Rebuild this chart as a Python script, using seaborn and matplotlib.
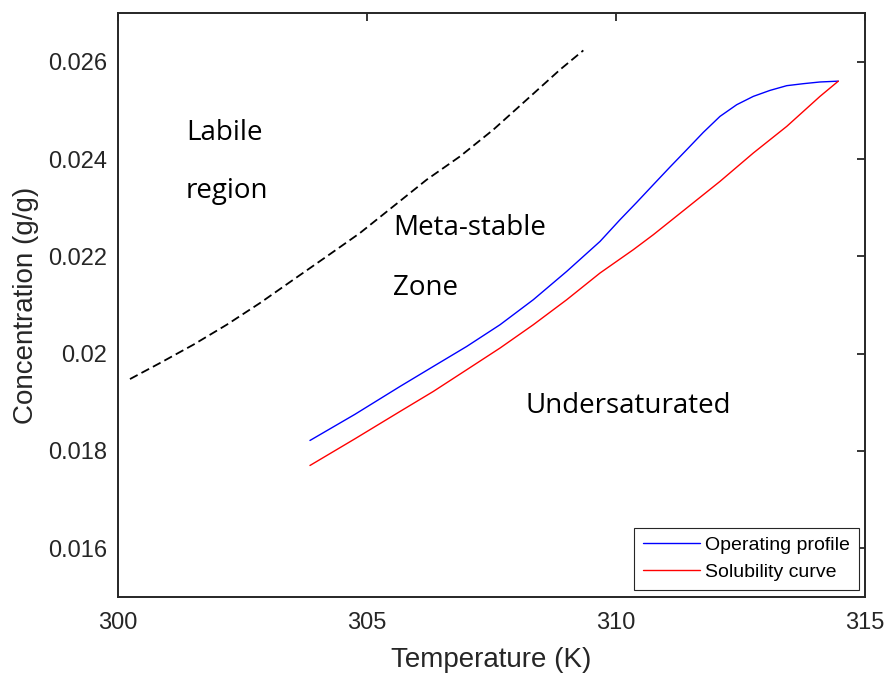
import numpy as np
import pandas as pd
import seaborn as sns
import matplotlib.pyplot as plt

# values
temp_op = [303.855, 304.759, 305.663, 306.331, 307.002, 307.671, 308.339, 309.010,
           309.679, 310.080, 310.415, 310.749, 311.084, 311.420, 311.753, 312.088,
           312.424, 312.757, 313.092, 313.428, 313.761, 314.096, 314.464]
conc_op = [0.018216, 0.018754, 0.019326, 0.019737, 0.020148, 0.020594, 0.021108, 0.021690,
           0.022306, 0.022752, 0.023108, 0.023472, 0.023835, 0.024191, 0.024547, 0.024876,
           0.025116, 0.025287, 0.025410, 0.025507, 0.025548, 0.025583, 0.025600]

temp_sol = [303.855, 304.759, 305.663, 306.331, 307.002, 307.671, 308.339, 309.010,
            309.679, 310.347, 310.749, 311.420, 312.088, 312.757, 313.428, 314.096,
            314.464]
conc_sol = [0.017702, 0.018251, 0.018812, 0.019223, 0.019669, 0.020115, 0.020594, 0.021108,
            0.021657, 0.022136, 0.022444, 0.022993, 0.023540, 0.024123, 0.024670, 0.025287,
            0.025600]

temp_lab = [300.241, 300.843, 301.512, 302.183, 302.851, 303.520, 304.191, 304.859,
            305.528, 306.199, 306.867, 307.536, 308.207, 308.876, 309.344]
conc_lab = [0.019478, 0.019807, 0.020183, 0.020594, 0.021040, 0.021519, 0.021998, 0.022479,
            0.023026, 0.023575, 0.024053, 0.024602, 0.025219, 0.025836, 0.026232]

x_ticks = [300, 305, 310, 315]
y_ticks = [0.016, 0.018, 0.02, 0.022, 0.024, 0.026]
y_tick_labels = ['0.016', '0.018', '0.02', '0.022', '0.024', '0.026']

df_op = pd.DataFrame({'T': temp_op, 'C': conc_op})
df_sol = pd.DataFrame({'T': temp_sol, 'C': conc_sol})
df_lab = pd.DataFrame({'T': temp_lab, 'C': conc_lab})

sns.set_style("white")
plt.rcParams['font.family'] = ['Liberation Sans', 'DejaVu Sans']

dark = '#262626'
fig = plt.figure(figsize=(8.87, 6.75), dpi=100)
ax = fig.add_axes([0.1330, 0.1156, 0.9752 - 0.1330, 0.9807 - 0.1156])

sns.lineplot(data=df_op, x='T', y='C', color='#0000ff', lw=1.0, sort=False,
             label='Operating profile', ax=ax)
sns.lineplot(data=df_sol, x='T', y='C', color='#ff0000', lw=1.0, sort=False,
             label='Solubility curve', ax=ax)
sns.lineplot(data=df_lab, x='T', y='C', color='black', lw=1.3, sort=False,
             dashes=False, ax=ax, legend=False)
ax.lines[-1].set_dashes([4.8, 2.4])

ax.set_xlim(300, 315)
ax.set_ylim(0.015, 0.027)
ax.set_xticks(x_ticks)
ax.set_xticklabels([str(t) for t in x_ticks])
ax.set_yticks(y_ticks)
ax.set_yticklabels(y_tick_labels)

ax.tick_params(direction='in', top=True, right=True, length=5.8, width=1.3,
               labelsize=17, colors=dark, labelcolor=dark)
ax.tick_params(axis='x', pad=11)
ax.tick_params(axis='y', pad=8)
for sp in ax.spines.values():
    sp.set_visible(True)
    sp.set_linewidth(1.4)
    sp.set_color(dark)

ax.set_xlabel('Temperature (K)', fontsize=20, color=dark, labelpad=9)
ax.set_ylabel('Concentration (g/g)', fontsize=20, color=dark, labelpad=6)

# region labels
lab_font = dict(fontsize=20, family=['Open Sans', 'DejaVu Sans'], color='black',
                ha='left', va='baseline')
ax.text(301.365, 0.024397, 'Labile', **lab_font)
ax.text(301.365, 0.023198, 'region', **lab_font)
ax.text(305.528, 0.022444, 'Meta-stable', **lab_font)
ax.text(305.516, 0.021211, 'Zone', **lab_font)
ax.text(308.193, 0.018779, 'Undersaturated', **lab_font)

leg = ax.legend(loc='lower right', bbox_to_anchor=(0.992, 0.012), borderaxespad=0,
                fontsize=14, frameon=True, fancybox=False, framealpha=1,
                edgecolor=dark, handlelength=2.9, handletextpad=0.3,
                labelspacing=0.5, borderpad=0.45)
leg.get_frame().set_linewidth(0.8)
for t in leg.get_texts():
    t.set_color('black')

fig.savefig('out.png', dpi=100)
